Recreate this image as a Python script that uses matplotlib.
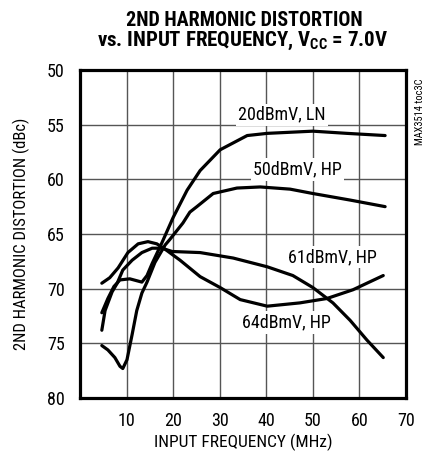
import matplotlib
matplotlib.use("Agg")
import matplotlib.pyplot as plt

NARROW = 'Roboto Condensed'
plt.rcParams['font.family'] = [NARROW, 'DejaVu Sans']
plt.rcParams['mathtext.fontset'] = 'custom'
plt.rcParams['mathtext.rm'] = NARROW + ':bold'
plt.rcParams['mathtext.bf'] = NARROW + ':bold'

# frequency (MHz) / 2nd harmonic distortion magnitude (dBc)
ln20_f = [4.7, 6.0, 7.3, 8.6, 10.7, 13.3, 14.4, 15.5, 17.6, 20.0, 23.0, 25.8, 30.1, 35.9, 40.2, 50.0, 57.3, 65.5]
ln20_v = [72.2, 70.9, 69.8, 69.2, 69.1, 69.4, 68.8, 67.7, 65.8, 63.5, 61.0, 59.2, 57.3, 56.0, 55.8, 55.6, 55.8, 56.0]

hp50_f = [4.7, 6.0, 7.5, 8.6, 9.2, 10.1, 11.2, 12.2, 13.3, 14.4, 16.1, 18.3, 19.3, 22.1, 23.6, 25.1, 28.6, 33.7, 38.7, 45.1, 50.0, 58.0, 65.5]
hp50_v = [75.2, 75.6, 76.3, 77.1, 77.3, 76.5, 74.2, 72.0, 70.4, 69.4, 67.6, 66.0, 65.5, 64.0, 63.0, 62.5, 61.3, 60.8, 60.7, 60.9, 61.3, 61.9, 62.5]

hp61_f = [4.7, 5.4, 6.9, 8.0, 9.2, 11.2, 13.3, 15.5, 17.6, 19.8, 25.8, 32.9, 40.2, 45.7, 50.0, 54.3, 58.0, 61.6, 65.1]
hp61_v = [73.8, 72.0, 70.3, 69.5, 68.3, 67.4, 66.7, 66.3, 66.3, 66.6, 66.7, 67.2, 68.0, 68.8, 69.9, 71.3, 72.9, 74.7, 76.3]

hp64_f = [4.7, 6.4, 8.2, 10.3, 12.5, 14.6, 16.5, 18.3, 21.5, 25.8, 30.1, 34.4, 40.2, 47.2, 53.0, 58.6, 65.1]
hp64_v = [69.5, 69.0, 68.1, 66.7, 65.9, 65.7, 65.9, 66.4, 67.4, 68.9, 69.9, 71.0, 71.6, 71.3, 70.9, 70.1, 68.8]

x_ticks = [10, 20, 30, 40, 50, 60, 70]
y_ticks = [50, 55, 60, 65, 70, 75, 80]

fig = plt.figure(figsize=(4.32, 4.57), dpi=100)
ax = fig.add_axes([0.185, 0.129, 0.755, 0.718])

for f, v in [(ln20_f, ln20_v), (hp50_f, hp50_v), (hp61_f, hp61_v), (hp64_f, hp64_v)]:
    ax.plot(f, v, color='black', lw=2.3, solid_capstyle='round', zorder=3)

ax.set_xlim(0, 70)
ax.set_ylim(80, 50)
ax.set_xticks(x_ticks)
ax.set_yticks(y_ticks)
ax.set_xticklabels([str(t) for t in x_ticks])
ax.set_yticklabels([str(t) for t in y_ticks])
ax.tick_params(axis='y', length=0, labelsize=13, pad=11)
ax.tick_params(axis='x', length=0, labelsize=13, pad=10)
ax.grid(True, color='#555555', lw=1.0)
for s in ax.spines.values():
    s.set_linewidth(2.3)

# curve labels sit on white boxes that cut the grid
box = dict(facecolor='white', edgecolor='none', pad=1.5)
ax.text(43.4, 54.1, "20dBmV, LN", fontsize=13, ha='center', va='center', bbox=box, zorder=4)
ax.text(46.6, 59.1, "50dBmV, HP", fontsize=13, ha='center', va='center', bbox=box, zorder=4)
ax.text(54.1, 67.1, "61dBmV, HP", fontsize=13, ha='center', va='center', bbox=box, zorder=4)
ax.text(44.4, 73.1, "64dBmV, HP", fontsize=13, ha='center', va='center', bbox=box, zorder=4)

ax.set_xlabel("INPUT FREQUENCY (MHz)", fontsize=12.5, labelpad=3)
ax.set_ylabel("2ND HARMONIC DISTORTION (dBc)", fontsize=12, labelpad=12)

fig.text(0.565, 0.955, "2ND HARMONIC DISTORTION", fontsize=14.5, fontweight='bold',
         ha='center', va='center')
fig.text(0.562, 0.91, r"vs. INPUT FREQUENCY, V$_{\mathbf{CC}}$ = 7.0V", fontsize=15,
         fontweight='bold', ha='center', va='center')
fig.text(0.972, 0.755, "MAX3514 toc3C", fontsize=7.5, rotation=90, ha='center', va='center')

fig.savefig("out.png", dpi=100)
